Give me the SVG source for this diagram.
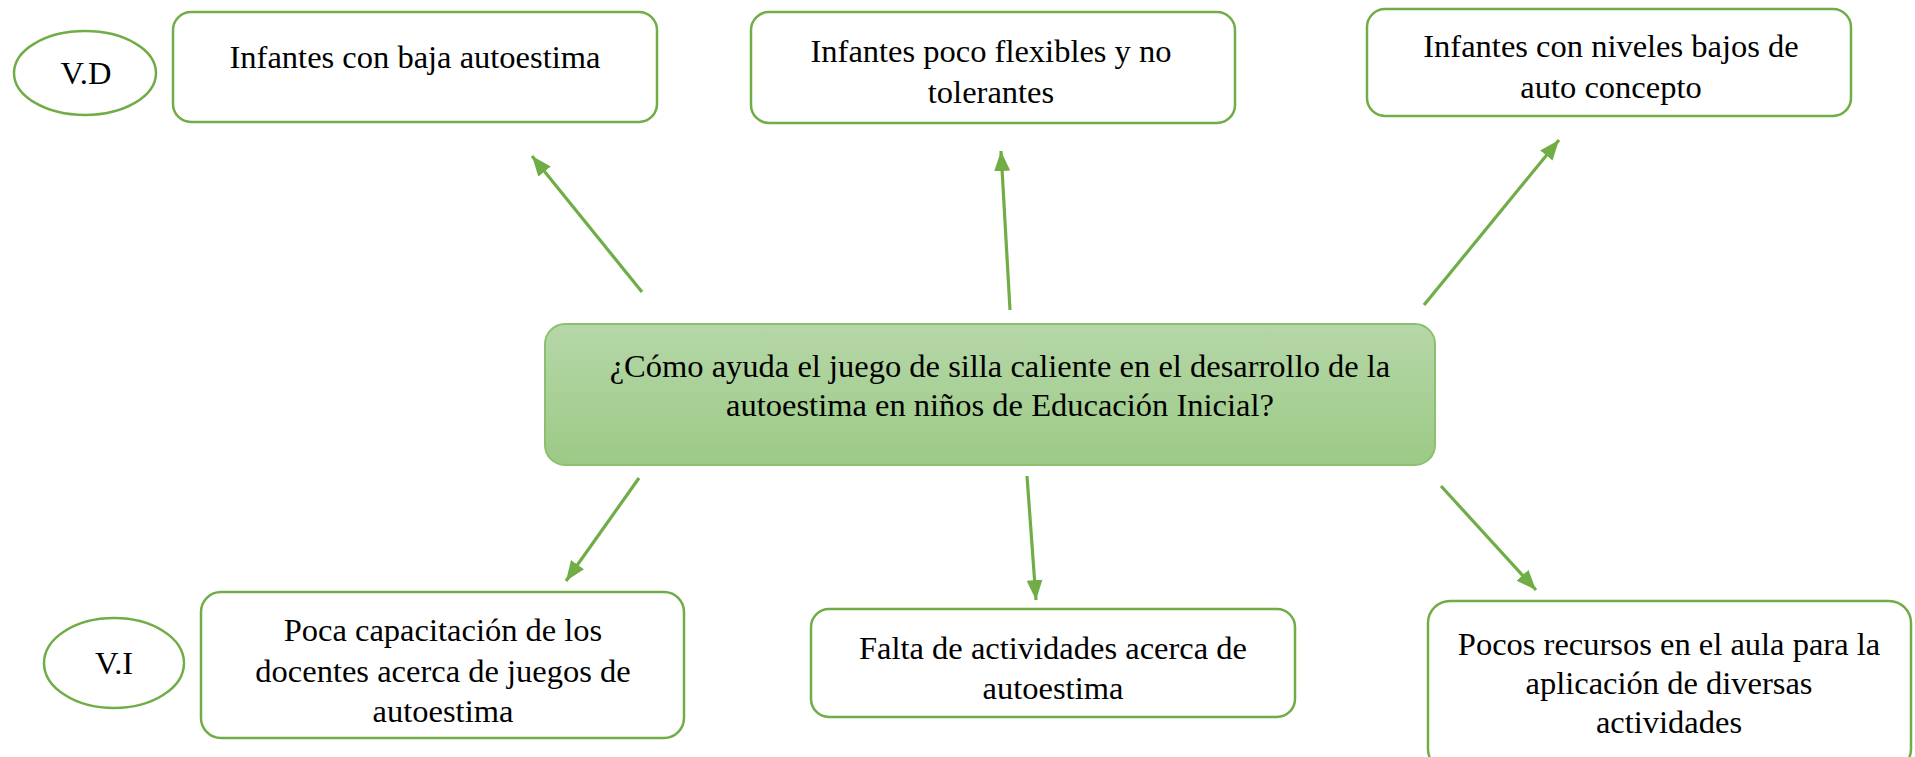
<svg xmlns="http://www.w3.org/2000/svg" width="1915" height="757" viewBox="0 0 1915 757">
<defs>
<linearGradient id="g" x1="0" y1="0" x2="0" y2="1">
<stop offset="0" stop-color="#B6D7A8"/>
<stop offset="1" stop-color="#9CCA86"/>
</linearGradient>
<marker id="ah" markerUnits="userSpaceOnUse" markerWidth="22" markerHeight="18" refX="20" refY="8" orient="auto">
<path d="M0,0 L20,8 L0,16 Z" fill="#70AD47"/>
</marker>
<style>
.box{fill:#fff;stroke:#70AD47;stroke-width:2.5}
.ell{fill:#fff;stroke:#70AD47;stroke-width:2.5}
.t{font-family:"Liberation Serif","Times New Roman",serif;font-size:32.5px;fill:#000;text-anchor:middle}
.c{stroke:#70AD47;stroke-width:3.2;fill:none;marker-end:url(#ah)}
</style>
</defs>
<rect width="1915" height="757" fill="#fff"/>
<g id="connectors">
<line class="c" x1="642" y1="292" x2="532" y2="156"/>
<line class="c" x1="1010" y1="310" x2="1001" y2="151"/>
<line class="c" x1="1424" y1="305" x2="1559" y2="140"/>
<line class="c" x1="639" y1="478" x2="566" y2="581"/>
<line class="c" x1="1027" y1="476" x2="1036" y2="600"/>
<line class="c" x1="1441" y1="486" x2="1536" y2="590"/>
</g>
<g id="vd">
<ellipse class="ell" cx="85" cy="73" rx="71" ry="42"/>
<text class="t" x="86" y="84">V.D</text>
</g>
<g id="n1">
<rect class="box" x="173" y="12" width="484" height="110" rx="18"/>
<text class="t" x="415" y="68">Infantes con baja autoestima</text>
</g>
<g id="n2">
<rect class="box" x="751" y="12" width="484" height="111" rx="18"/>
<text class="t" x="991" y="62">Infantes poco flexibles y no</text>
<text class="t" x="991" y="103">tolerantes</text>
</g>
<g id="n3">
<rect class="box" x="1367" y="9" width="484" height="107" rx="18"/>
<text class="t" x="1611" y="57">Infantes con niveles bajos de</text>
<text class="t" x="1611" y="98">auto concepto</text>
</g>
<g id="center">
<rect x="545" y="324" width="890" height="141" rx="20" fill="url(#g)" stroke="#8CC06E" stroke-width="2"/>
<text class="t" x="1000" y="377">¿Cómo ayuda el juego de silla caliente en el desarrollo de la</text>
<text class="t" x="1000" y="416">autoestima en niños de Educación Inicial?</text>
</g>
<g id="vi">
<ellipse class="ell" cx="114" cy="663" rx="70" ry="45"/>
<text class="t" x="114" y="674">V.I</text>
</g>
<g id="n4">
<rect class="box" x="201" y="592" width="483" height="146" rx="20"/>
<text class="t" x="443" y="641">Poca capacitación de los</text>
<text class="t" x="443" y="682">docentes acerca de juegos de</text>
<text class="t" x="443" y="722">autoestima</text>
</g>
<g id="n5">
<rect class="box" x="811" y="609" width="484" height="108" rx="18"/>
<text class="t" x="1053" y="659">Falta de actividades acerca de</text>
<text class="t" x="1053" y="699">autoestima</text>
</g>
<g id="n6">
<rect class="box" x="1428" y="601" width="483" height="170" rx="22"/>
<text class="t" x="1669" y="655">Pocos recursos en el aula para la</text>
<text class="t" x="1669" y="694">aplicación de diversas</text>
<text class="t" x="1669" y="733">actividades</text>
</g>
</svg>
